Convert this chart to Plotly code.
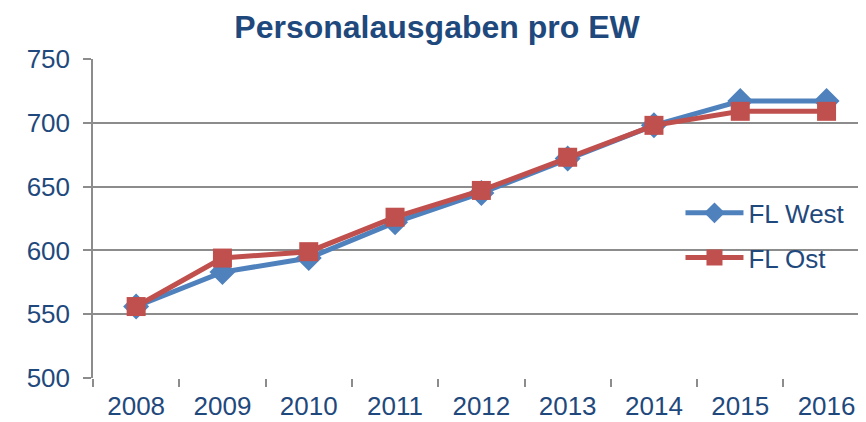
import plotly.graph_objects as go

years = ["2008", "2009", "2010", "2011", "2012", "2013", "2014", "2015", "2016"]
fl_west = [556, 583, 594, 622, 645, 672, 698, 717, 717]
fl_ost = [556, 594, 599, 626, 647, 673, 698, 709, 709]

NAVY = "#1F497D"
GRID = "#8C8C8C"

fig = go.Figure()
fig.add_trace(go.Scatter(
    x=years, y=fl_west, name="FL West", mode="lines+markers",
    line=dict(color="#4F81BD", width=5),
    marker=dict(symbol="diamond", size=20, color="#4F81BD"),
    legendgroup="w"))
fig.add_trace(go.Scatter(
    x=years, y=fl_ost, name="FL Ost", mode="lines+markers",
    line=dict(color="#C0504D", width=5),
    marker=dict(symbol="square", size=19, color="#C0504D"),
    legendgroup="o"))

fig.update_layout(
    width=858, height=414,
    margin=dict(l=85, r=0, t=51, b=44),
    paper_bgcolor="white", plot_bgcolor="white",
    font=dict(family="Liberation Sans, Arial", color=NAVY, size=26),
    title=dict(text="<b>Personalausgaben pro EW</b>", x=0.5, xanchor="center",
               yref="container", y=0.982, yanchor="top", pad=dict(t=0),
               font=dict(size=32, color=NAVY)),
    xaxis=dict(type="category", range=[-0.5, 8.457], showgrid=False,
               showline=False, zeroline=False,
               ticks="outside", tickson="boundaries", ticklen=8,
               tickcolor=GRID, tickwidth=1.5, ticklabelstandoff=10,
               tickfont=dict(size=26, color=NAVY)),
    yaxis=dict(range=[500, 750], dtick=50, showgrid=True, gridcolor=GRID,
               gridwidth=1.5, showline=True, linecolor=GRID, linewidth=1.5,
               zeroline=False, ticks="outside", ticklen=8, tickcolor=GRID,
               tickwidth=1.5, ticklabelstandoff=8,
               tickfont=dict(size=26, color=NAVY)),
    legend=dict(x=0.760, y=0.447, xanchor="left", yanchor="middle",
                bgcolor="rgba(0,0,0,0)", itemwidth=58, tracegroupgap=8,
                font=dict(size=26, color=NAVY)),
    showlegend=True,
)

fig.write_html("out.html")
